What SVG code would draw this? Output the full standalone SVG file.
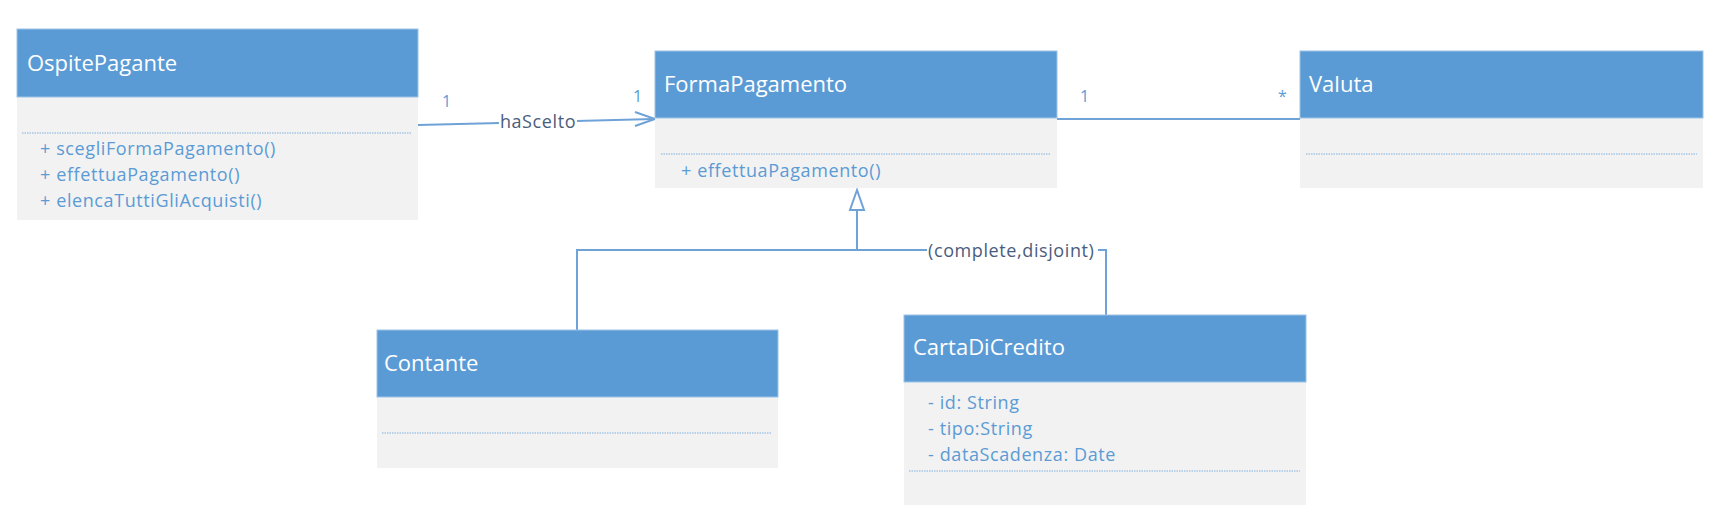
<svg xmlns="http://www.w3.org/2000/svg" width="1714" height="527" viewBox="0 0 1714 527">
<defs>
<style>
.hdr{fill:#5B9BD5;stroke:#9DC3E6;stroke-width:1}
.body{fill:#F2F2F2}
.title{font-family:"Open Sans","Liberation Sans",sans-serif;font-size:22px;fill:#FFFFFF}
.member{font-family:"Open Sans","Liberation Sans",sans-serif;font-size:18px;fill:#5B9BD5;letter-spacing:0.6px}
.sep{stroke:#7FAEDD;stroke-width:1.2;stroke-dasharray:1.5 1}
.conn{fill:none;stroke:#6FA3D8;stroke-width:2}
.lbl{font-family:"Open Sans","Liberation Sans",sans-serif;font-size:18px;fill:#4A5D7E;letter-spacing:0.6px}
.mult{font-family:"Open Sans","Liberation Sans",sans-serif;font-size:16px;fill:#5B9BD5}
</style>
</defs>
<rect width="1714" height="527" fill="#FFFFFF"/>

<g id="connectors">
<line class="conn" x1="418" y1="125" x2="654" y2="119"/>
<polyline class="conn" points="635,112 655,119 635,126"/>
<rect x="499" y="110" width="78" height="22" fill="#FFFFFF"/>
<text class="lbl" x="538" y="128" text-anchor="middle">haScelto</text>
<text class="mult" x="442" y="107">1</text>
<text class="mult" x="633" y="102">1</text>

<line class="conn" x1="1057" y1="119" x2="1300" y2="119"/>
<text class="mult" x="1080" y="102">1</text>
<text class="mult" x="1278" y="102">*</text>

<path class="conn" d="M577,330 V250 H1106 V315"/>
<path class="conn" d="M857,250 V210"/>
<polygon points="857,190 850,210 864,210" fill="#FFFFFF" stroke="#6FA3D8" stroke-width="2"/>
<rect x="927" y="238" width="171" height="24" fill="#FFFFFF"/>
<text class="lbl" x="928" y="257">(complete,disjoint)</text>
</g>

<g id="OspitePagante">
<rect class="body" x="17" y="97" width="401" height="123"/>
<rect class="hdr" x="17" y="29" width="401" height="68"/>
<text class="title" x="27" y="71">OspitePagante</text>
<line class="sep" x1="22" y1="133" x2="412" y2="133"/>
<text class="member" x="40" y="155">+ scegliFormaPagamento()</text>
<text class="member" x="40" y="181">+ effettuaPagamento()</text>
<text class="member" x="40" y="207">+ elencaTuttiGliAcquisti()</text>
</g>

<g id="FormaPagamento">
<rect class="body" x="655" y="118" width="402" height="70"/>
<rect class="hdr" x="655" y="51" width="402" height="67"/>
<text class="title" x="664" y="92">FormaPagamento</text>
<line class="sep" x1="661" y1="154" x2="1051" y2="154"/>
<text class="member" x="681" y="177">+ effettuaPagamento()</text>
</g>

<g id="Valuta">
<rect class="body" x="1300" y="118" width="403" height="70"/>
<rect class="hdr" x="1300" y="51" width="403" height="67"/>
<text class="title" x="1309" y="92">Valuta</text>
<line class="sep" x1="1306" y1="154" x2="1697" y2="154"/>
</g>

<g id="Contante">
<rect class="body" x="377" y="397" width="401" height="71"/>
<rect class="hdr" x="377" y="330" width="401" height="67"/>
<text class="title" x="384" y="371">Contante</text>
<line class="sep" x1="382" y1="433" x2="772" y2="433"/>
</g>

<g id="CartaDiCredito">
<rect class="body" x="904" y="382" width="402" height="123"/>
<rect class="hdr" x="904" y="315" width="402" height="67"/>
<text class="title" x="913" y="355">CartaDiCredito</text>
<text class="member" x="928" y="409">- id: String</text>
<text class="member" x="928" y="435">- tipo:String</text>
<text class="member" x="928" y="461">- dataScadenza: Date</text>
<line class="sep" x1="909" y1="471" x2="1300" y2="471"/>
</g>
</svg>
